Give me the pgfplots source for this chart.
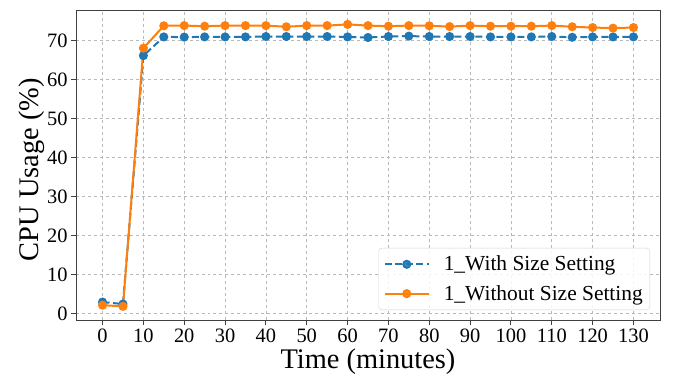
\documentclass[border=0pt]{standalone}
\usepackage{pgfplots}
\pgfplotsset{compat=1.18}
\usepackage{fontspec}
\setmainfont{Liberation Serif}
\definecolor{mplblue}{HTML}{1F77B4}
\definecolor{mplorange}{HTML}{FF7F0E}
\begin{document}
\begin{tikzpicture}
\begin{axis}[
  scale only axis,
  width=584bp, height=310bp,
  xmin=-6.5, xmax=136.5,
  ymin=-1.6, ymax=77.9,
  xtick={0,10,...,130},
  ytick={0,10,...,70},
  tick align=outside,
  major tick length=5bp,
  xtick pos=bottom, ytick pos=left,
  axis line style={black!75, line width=0.9bp},
  tick style={black!75, line width=0.9bp},
  grid=major,
  major grid style={dashed, gray!55, line width=0.6bp},
  /pgf/number format/assume math mode=true,
  ticklabel style={font=\fontsize{20.5}{24}\selectfont},
  xlabel={Time (minutes)},
  ylabel={CPU Usage (\%)},
  label style={font=\fontsize{28.5}{32}\selectfont},
  xlabel style={at={(axis description cs:0.5,-0.155)}, anchor=base},
  ylabel style={at={(axis description cs:-0.076,0.485)}, anchor=center},
  legend style={at={(1,0)}, anchor=south east, xshift=-10bp, yshift=10bp,
    font=\fontsize{21.5}{25}\selectfont, draw=gray!35, rounded corners=3bp,
    fill=white, fill opacity=0.85, text opacity=1,
    inner xsep=5bp, inner ysep=6bp, row sep=9bp,
    /tikz/every odd column/.append style={column sep=12bp}},
  legend cell align=left,
  legend image code/.code={\draw[mark repeat=2,mark phase=2,#1] plot coordinates {(0bp,0bp) (22bp,0bp) (44bp,0bp)};},
]
\addplot[mplblue, line width=2bp, dash pattern=on 7bp off 3.5bp, mark=*, mark size=3.5bp, mark options={solid}] coordinates {
(0,3.0) (5,2.5) (10,66.2) (15,71.0) (20,70.95) (25,71.0) (30,71.0) (35,71.0) (40,71.1) (45,71.1) (50,71.1) (55,71.1) (60,71.0) (65,70.85) (70,71.1) (75,71.2) (80,71.1) (85,71.1) (90,71.1) (95,71.0) (100,71.0) (105,71.0) (110,71.1) (115,70.9) (120,71.0) (125,71.0) (130,71.0)
};
\addlegendentry{1\_With Size Setting}
\addplot[mplorange, line width=2bp, mark=*, mark size=3.5bp] coordinates {
(0,2.2) (5,1.9) (10,68.1) (15,73.85) (20,73.9) (25,73.75) (30,73.9) (35,73.9) (40,73.9) (45,73.6) (50,73.9) (55,73.9) (60,74.2) (65,73.9) (70,73.75) (75,73.9) (80,73.85) (85,73.65) (90,73.9) (95,73.75) (100,73.75) (105,73.75) (110,73.9) (115,73.6) (120,73.4) (125,73.25) (130,73.4)
};
\addlegendentry{1\_Without Size Setting}
\end{axis}
\path[use as bounding box] (-76bp,-58bp) rectangle (604bp,320bp);
\end{tikzpicture}
\end{document}
